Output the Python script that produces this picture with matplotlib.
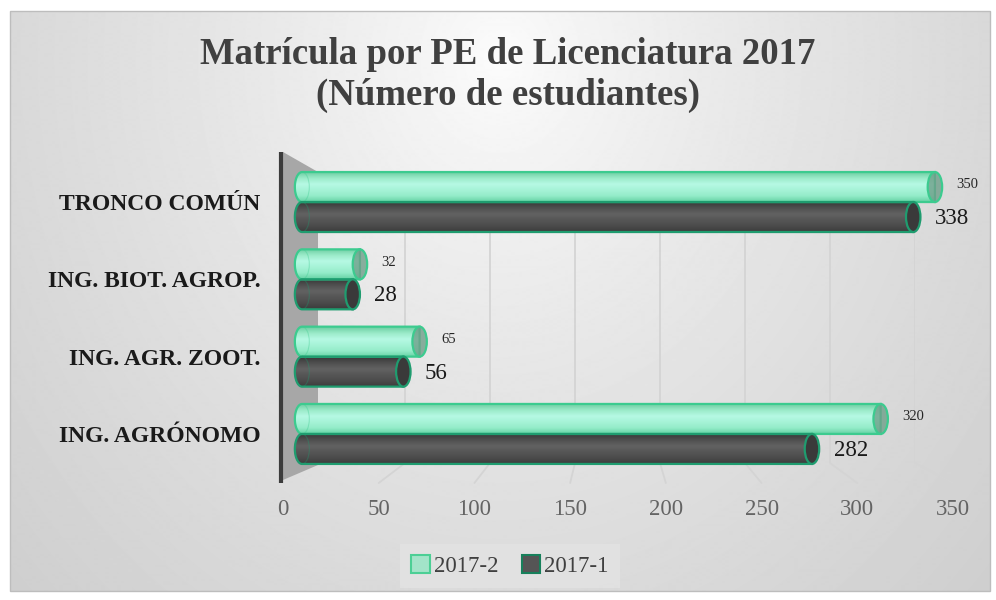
import numpy as np
import matplotlib
matplotlib.use("Agg")
from matplotlib import pyplot as plt
from matplotlib.patches import Ellipse, PathPatch, Patch, Polygon, Rectangle, ConnectionPatch
from matplotlib.path import Path
from matplotlib.colors import LinearSegmentedColormap

# data (bottom -> top, as drawn)
categories = ["ING. AGRÓNOMO", "ING. AGR. ZOOT.", "ING. BIOT. AGROP.", "TRONCO COMÚN"]
serie_2017_2 = [320, 65, 32, 350]
serie_2017_1 = [282, 56, 28, 338]
series_names = ["2017-2", "2017-1"]
x_ticks = [0, 50, 100, 150, 200, 250, 300, 350]

title = "Matrícula por PE de Licenciatura 2017\n(Número de estudiantes)"

W, H = 996, 600
plt.rcParams['font.family'] = ['Liberation Serif', 'DejaVu Serif']

fig = plt.figure(figsize=(W / 100, H / 100), dpi=100)
fig.patch.set_facecolor('white')


def px_rect(x0, y0, x1, y1):
    # pixel box (top-left origin) -> figure fraction
    return [x0 / W, 1 - y1 / H, (x1 - x0) / W, (y1 - y0) / H]


# background with soft radial gradient
bg = fig.add_axes([0, 0, 1, 1], zorder=0)
bg.set_xlim(0, W)
bg.set_ylim(H, 0)
bg.axis('off')
X, Y = np.meshgrid(np.arange(10, 991), np.arange(11, 592))
d = np.sqrt(((X - 500) / 620.0) ** 2 + ((Y - 60) / 720.0) ** 2)
shade = np.clip(0.99 - 0.17 * d ** 0.8, 0, 1)
bg.imshow(shade, cmap='gray', vmin=0, vmax=1, extent=(10, 990, 591, 11),
          aspect='auto', interpolation='bilinear')
bg.add_patch(Rectangle((10, 11), 980, 580, fill=False, ec='#bdbdbd', lw=1))

# left side wall of the 3d box
bg.add_patch(Polygon([(283, 152), (318, 172), (318, 465), (283, 480)],
                     closed=True, fc='#a7a7a7', ec='none'))
bg.plot([281, 281], [152, 483], color='#3c3c3c', lw=3, solid_capstyle='butt')

bg.text(508, 75, title, ha='center', va='center', fontsize=26.5,
        fontweight='bold', color='#404040', linespacing=1.2)

# back wall grid
ax_wall = fig.add_axes(px_rect(320, 172, 915, 463), zorder=1)
ax_wall.set_xlim(0, 350)
ax_wall.set_ylim(0, 1)
ax_wall.patch.set_alpha(0)
for s in ax_wall.spines.values():
    s.set_visible(False)
ax_wall.set_xticks(x_ticks[1:])
ax_wall.set_yticks([])
ax_wall.tick_params(length=0, labelbottom=False)
ax_wall.grid(axis='x', color='#d4d4d4', lw=1.3)

# front axis for tick labels
ax_t = fig.add_axes(px_rect(283, 482, 953, 484), zorder=1)
ax_t.set_xlim(0, 350)
ax_t.set_ylim(0, 1)
ax_t.patch.set_alpha(0)
for s in ax_t.spines.values():
    s.set_visible(False)
ax_t.set_yticks([])
ax_t.set_xticks(x_ticks)
ax_t.set_xticklabels([str(t) for t in x_ticks], fontsize=16.5, color='#646464')
ax_t.tick_params(length=0, pad=11)

# floor lines joining back wall and front axis
for t in x_ticks[1:]:
    fig.add_artist(ConnectionPatch(xyA=(t, 0), coordsA=ax_wall.transData,
                                   xyB=(t, 0.5), coordsB=ax_t.transData,
                                   color='#d4d4d4', lw=1.3, zorder=1))

# bars
ax = fig.add_axes(px_rect(284, 150, 953, 490), zorder=2)
ax.set_xlim(-10, 360)
ax.set_ylim(-0.725, 3.673)
ax.patch.set_alpha(0)
for s in ax.spines.values():
    s.set_visible(False)

y = np.arange(len(categories))
h = 0.388
cw = 8.0   # cap width, data units

green_cmap = LinearSegmentedColormap.from_list(
    'g', ['#66d3a5', '#94ecc9', '#a6f3d7', '#b6f9e4', '#9bebc9', '#6fcfa4'])
dark_cmap = LinearSegmentedColormap.from_list(
    'k', ['#3c3c3c', '#4b4b4b', '#565656', '#626262', '#505050', '#383838'])

b2 = ax.barh(y + h / 2, serie_2017_2, height=h, color='none')
b1 = ax.barh(y - h / 2, serie_2017_1, height=h, color='none')

grad = np.linspace(0, 1, 64).reshape(-1, 1)


def cylinder(rect, cmap, edge, cap_face, cap_alpha=1.0):
    x0 = rect.get_x()
    x1 = x0 + rect.get_width()
    yb = rect.get_y()
    yt = yb + rect.get_height()
    yc = (yb + yt) / 2
    hh = (yt - yb) / 2
    t = np.linspace(np.pi / 2, 3 * np.pi / 2, 40)
    verts = [(x0, yb), (x1, yb), (x1, yt), (x0, yt)]
    verts += list(zip(x0 + cw / 2 * np.cos(t), yc + hh * np.sin(t)))
    verts.append((x0, yb))
    body = PathPatch(Path(verts, closed=True), fc='none', ec=edge, lw=1.6, zorder=3)
    ax.add_patch(body)
    im = ax.imshow(grad, cmap=cmap, extent=(x0 - cw / 2, x1, yt, yb),
                   aspect='auto', interpolation='bilinear', zorder=2)
    im.set_clip_path(body)
    # faint back edge of the left end
    ax.add_patch(Ellipse((x0, yc), cw, yt - yb, fc='none', ec=edge, lw=0.8,
                         alpha=0.35, zorder=3))
    # visible right end
    ax.add_patch(Ellipse((x1, yc), cw, yt - yb, fc=cap_face, ec='none',
                         alpha=cap_alpha, zorder=4))
    ax.add_patch(Ellipse((x1, yc), cw, yt - yb, fc='none', ec=edge, lw=1.6,
                         zorder=4))


for r in b2:
    cylinder(r, green_cmap, '#3ccb8f', '#6f9f8a', 0.8)
for r in b1:
    cylinder(r, dark_cmap, '#1f9c6f', '#3a3a3a')

for r, v in zip(b2, serie_2017_2):
    ax.text(v + cw / 2 + 8, r.get_y() + r.get_height() / 2 + 0.03, str(v),
            fontsize=10.5, color='#262626', va='center', ha='left')
for r, v in zip(b1, serie_2017_1):
    ax.text(v + cw / 2 + 8, r.get_y() + r.get_height() / 2 - 0.02, str(v),
            fontsize=16.5, color='#1a1a1a', va='center', ha='left')

ax.set_yticks(y)
ax.set_yticklabels(categories, fontsize=17, fontweight='bold', color='#1a1a1a')
ax.set_xticks([])
ax.tick_params(length=0, pad=17)

handles = [Patch(fc='#a3e4c9', ec='#4ccf95', lw=1.5),
           Patch(fc='#555555', ec='#17805b', lw=1.5)]
leg = fig.legend(handles, series_names, loc='center',
                 bbox_to_anchor=(510 / W, 1 - 566 / H), ncol=2, fontsize=16.5,
                 frameon=True, fancybox=False, handlelength=0.8, handleheight=0.8,
                 handletextpad=0.2, columnspacing=1.0, borderpad=0.5)
leg.get_frame().set_facecolor('#e3e3e3')
leg.get_frame().set_edgecolor('none')
for txt in leg.get_texts():
    txt.set_color('#404040')

fig.savefig("out.png", dpi=100)
